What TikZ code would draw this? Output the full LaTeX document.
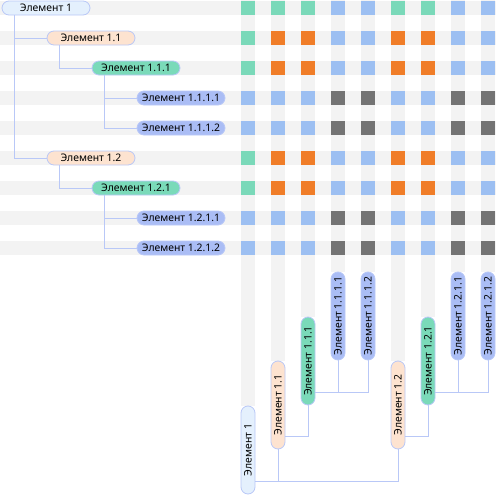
\documentclass[tikz,border=0pt]{standalone}
\usepackage{fontspec}
\setmainfont{Noto Sans}
\definecolor{bandgray}{RGB}{243, 243, 243}
\definecolor{linkblue}{RGB}{185, 200, 247}
\definecolor{rootblue}{RGB}{228, 240, 253}
\definecolor{peach1}{RGB}{253, 227, 208}
\definecolor{mint1}{RGB}{122, 218, 185}
\definecolor{lav1}{RGB}{170, 189, 245}
\definecolor{cg}{RGB}{122, 217, 185}
\definecolor{co}{RGB}{240, 125, 40}
\definecolor{cb}{RGB}{156, 191, 242}
\definecolor{cd}{RGB}{115, 115, 115}
\usepackage{tikz}
\usetikzlibrary{calc}

\begin{document}
\begin{tikzpicture}[
  x=1pt, y=-1pt,
  elem/.style={draw=linkblue, line width=0.8pt, rounded corners=7pt, minimum width=88pt, minimum height=14pt, inner sep=0pt, font=\fontsize{10.4}{11}\selectfont, text=black},
  vert/.style={elem, rotate=90},
  link/.style={draw=linkblue, line width=1pt}
]
  \useasboundingbox (0,0) rectangle (496,496);

  % grey bands
  \foreach \r in {0,...,8}
    \fill[bandgray] (0,{1+30*\r}) rectangle (496,{15+30*\r});
  \foreach \c/\t in {0/406,1/361,2/317,3/272,4/272,5/361,6/317,7/272,8/272}
    \fill[bandgray] ({241+30*\c},0) rectangle ({255+30*\c},\t);

  % cells
  \foreach \r/\cols in {0/{cg,cg,cg,cb,cb,cg,cg,cb,cb}, 1/{cg,co,co,cb,cb,co,co,cb,cb},
      2/{cg,co,co,cb,cb,co,co,cb,cb}, 3/{cb,cb,cb,cd,cd,cb,cb,cd,cd}, 4/{cb,cb,cb,cd,cd,cb,cb,cd,cd},
      5/{cg,co,co,cb,cb,co,co,cb,cb}, 6/{cg,co,co,cb,cb,co,co,cb,cb}, 7/{cb,cb,cb,cd,cd,cb,cb,cd,cd},
      8/{cb,cb,cb,cd,cd,cb,cb,cd,cd}}
    \foreach \cc [count=\c from 0] in \cols
      \fill[\cc] ({241+30*\c},{1+30*\r}) rectangle +(14,14);

  % row tree
  \node[elem, fill=rootblue] (r1) at (46,8) {Элемент 1};
  \node[elem, fill=peach1] (r11) at (91,38) {Элемент 1.1};
  \node[elem, fill=mint1] (r111) at (136,68) {Элемент 1.1.1};
  \node[elem, fill=lav1] (r1111) at (181,98) {Элемент 1.1.1.1};
  \node[elem, fill=lav1] (r1112) at (181,128) {Элемент 1.1.1.2};
  \node[elem, fill=peach1] (r12) at (91,158) {Элемент 1.2};
  \node[elem, fill=mint1] (r121) at (136,188) {Элемент 1.2.1};
  \node[elem, fill=lav1] (r1211) at (181,218) {Элемент 1.2.1.1};
  \node[elem, fill=lav1] (r1212) at (181,248) {Элемент 1.2.1.2};

  % column tree
  \node[vert, fill=rootblue] (c1) at (248,450) {Элемент 1};
  \node[vert, fill=peach1] (c11) at (278,405) {Элемент 1.1};
  \node[vert, fill=mint1] (c111) at (308,361) {Элемент 1.1.1};
  \node[vert, fill=lav1] (c1111) at (338,316) {Элемент 1.1.1.1};
  \node[vert, fill=lav1] (c1112) at (368,316) {Элемент 1.1.1.2};
  \node[vert, fill=peach1] (c12) at (398,405) {Элемент 1.2};
  \node[vert, fill=mint1] (c121) at (428,361) {Элемент 1.2.1};
  \node[vert, fill=lav1] (c1211) at (458,316) {Элемент 1.2.1.1};
  \node[vert, fill=lav1] (c1212) at (488,316) {Элемент 1.2.1.2};

  \coordinate (t1) at ($(r1.south west)+(12.5,0)$);
  \coordinate (t11) at ($(r11.south west)+(12.5,0)$);
  \coordinate (t111) at ($(r111.south west)+(12.5,0)$);
  \coordinate (t12) at ($(r12.south west)+(12.5,0)$);
  \coordinate (t121) at ($(r121.south west)+(12.5,0)$);
  \draw[link] (t1) |- (r12.west);
  \draw[link] (t1 |- r11.west) -- (r11.west);
  \draw[link] (t11) |- (r111.west);
  \draw[link] (t111) |- (r1112.west);
  \draw[link] (t111 |- r1111.west) -- (r1111.west);
  \draw[link] (t12) |- (r121.west);
  \draw[link] (t121) |- (r1212.west);
  \draw[link] (t121 |- r1211.west) -- (r1211.west);

  \coordinate (b1) at ($(c1.south west)+(0,-12.5)$);
  \coordinate (b11) at ($(c11.south west)+(0,-12.5)$);
  \coordinate (b111) at ($(c111.south west)+(0,-12.5)$);
  \coordinate (b12) at ($(c12.south west)+(0,-12.5)$);
  \coordinate (b121) at ($(c121.south west)+(0,-12.5)$);
  \draw[link] (b1) -| (c12.west);
  \draw[link] (c11.west) -- (c11.west |- b1);
  \draw[link] (b11) -| (c111.west);
  \draw[link] (b111) -| (c1112.west);
  \draw[link] (c1111.west) -- (c1111.west |- b111);
  \draw[link] (b12) -| (c121.west);
  \draw[link] (b121) -| (c1212.west);
  \draw[link] (c1211.west) -- (c1211.west |- b121);
\end{tikzpicture}
\end{document}
